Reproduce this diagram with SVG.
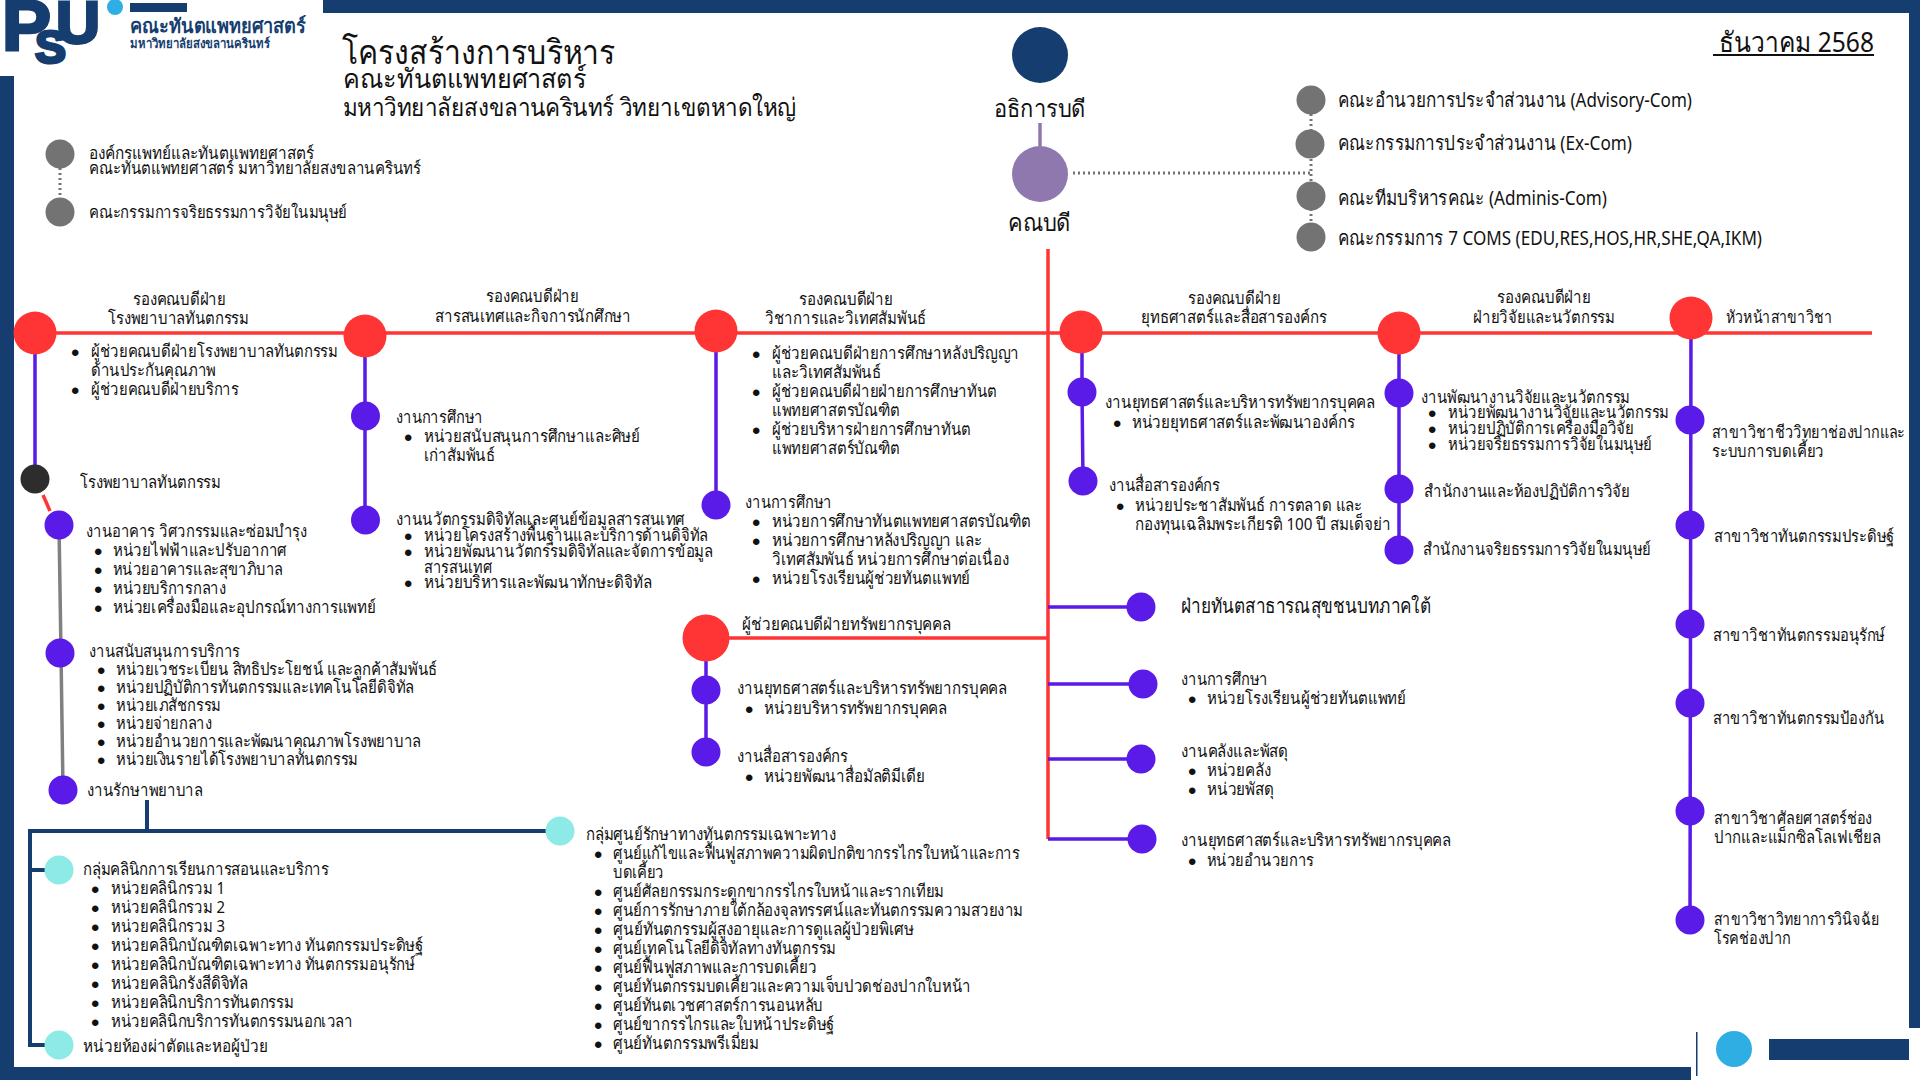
<svg xmlns="http://www.w3.org/2000/svg" width="1920" height="1080" viewBox="0 0 1920 1080">
<style>
text{font-family:"Noto Sans","Liberation Sans",sans-serif;font-size:17px;fill:#111}
.b{font-family:"Liberation Sans",sans-serif;font-size:24px;transform:translateY(4px)}
.sz20{font-size:20px}.sz24{font-size:24px}.sz28{font-size:28px}
.logo{font-family:"Liberation Sans",sans-serif;font-weight:700;fill:#153d6f;stroke:#153d6f;stroke-width:3}
.logot{font-weight:700;fill:#153d6f}
.red{fill:#ff3535}.vio{fill:#5a1ae8}.teal{fill:#8deae6}.gry{fill:#737373}
.l{fill:none;stroke-width:3.5}
.lr{stroke:#ff3535}.lv{stroke:#5a1ae8}.lg{stroke:#808080}.ln{stroke:#153d6f;stroke-width:4}
.ld{stroke:#737373;stroke-width:3;stroke-dasharray:2 3;fill:none}
</style>
<g id="frame" fill="#153d6f">
<rect x="323" y="0" width="1597" height="13"/>
<rect x="0" y="76" width="14" height="1004"/>
<rect x="0" y="1067" width="1691" height="13"/>
<rect x="1909" y="0" width="11" height="1028"/>
<rect x="1769" y="1039" width="140" height="21"/>
<rect x="1696" y="1032" width="1.5" height="44"/>
<circle cx="1734" cy="1049" r="18" fill="#2eaee3"/>
</g>
<g id="logo">
<text class="logo" x="2" y="50" textLength="49" lengthAdjust="spacingAndGlyphs" style="font-size:70px">P</text>
<text class="logo" x="56" y="43" textLength="44" lengthAdjust="spacingAndGlyphs" style="font-size:60px">U</text>
<text class="logo" x="35" y="63" textLength="31" lengthAdjust="spacingAndGlyphs" style="font-size:46px">S</text>
<circle cx="115" cy="7" r="8" fill="#2eaee3"/>
<rect x="130" y="3" width="57" height="9" fill="#153d6f"/>
<text class="logot" x="130" y="33" textLength="176" lengthAdjust="spacingAndGlyphs" style="font-size:20px">คณะทันตแพทยศาสตร์</text>
<text class="logot" x="130" y="48" textLength="140" lengthAdjust="spacingAndGlyphs" style="font-size:13px">มหาวิทยาลัยสงขลานครินทร์</text>
</g>
<g id="title">
<text x="342" y="64" textLength="273" lengthAdjust="spacingAndGlyphs" style="font-size:34px">โครงสร้างการบริหาร</text>
<text x="343" y="88" textLength="244" lengthAdjust="spacingAndGlyphs" style="font-size:27px">คณะทันตแพทยศาสตร์</text>
<text x="343" y="116" textLength="453" lengthAdjust="spacingAndGlyphs" style="font-size:25px">มหาวิทยาลัยสงขลานครินทร์ วิทยาเขตหาดใหญ่</text>
<text x="1719" y="52" textLength="155" lengthAdjust="spacingAndGlyphs" style="font-size:28px">ธันวาคม 2568</text>
<rect x="1713" y="54" width="161" height="2" fill="#111"/>
</g>
<g id="connectors">
<path class="l" d="M1040 123V146" stroke="#8f78ae"/>
<path class="ld" d="M1073 173H1311M1311 114V230M60 168V200"/>
<path class="l lr" d="M35 333H1872M1048 249V839M706 638H1048"/>
<path class="l lr" d="M43 495L50 511"/>
<path class="l lv" d="M35 333V479M365 336V520M716 331V505M1082 332V392L1083 481M1399 333V550M1691 318L1690 920M706 638V752M1048 607H1141M1048 684H1143M1048 759H1141M1048 839H1142"/>
<path class="l lg" d="M59 525L61 653L63 790"/>
<path class="l ln" d="M147 800V831M560 831H30V1045H59M30 870H59"/>
</g>
<g id="n-rector"><circle cx="1040" cy="55" r="28" fill="#153d6f"/><text x="994" y="117" textLength="92" lengthAdjust="spacingAndGlyphs" class="sz24">อธิการบดี</text></g>
<g id="n-dean"><circle cx="1040" cy="174" r="28" fill="#8f78ae"/><text x="1008" y="231" textLength="63" lengthAdjust="spacingAndGlyphs" class="sz24">คณบดี</text></g>
<g id="n-com1"><circle class="gry" cx="1311" cy="100" r="14.5"/><text x="1338" y="107" textLength="354" lengthAdjust="spacingAndGlyphs" class="sz20">คณะอำนวยการประจำส่วนงาน (Advisory-Com)</text></g>
<g id="n-com2"><circle class="gry" cx="1310" cy="144" r="14.5"/><text x="1338" y="150" textLength="294" lengthAdjust="spacingAndGlyphs" class="sz20">คณะกรรมการประจำส่วนงาน (Ex-Com)</text></g>
<g id="n-com3"><circle class="gry" cx="1311" cy="196" r="14.5"/><text x="1338" y="205" textLength="269" lengthAdjust="spacingAndGlyphs" class="sz20">คณะทีมบริหารคณะ (Adminis-Com)</text></g>
<g id="n-com4"><circle class="gry" cx="1311" cy="237" r="14.5"/><text x="1338" y="245" textLength="424" lengthAdjust="spacingAndGlyphs" class="sz20">คณะกรรมการ 7 COMS (EDU,RES,HOS,HR,SHE,QA,IKM)</text></g>
<g id="n-leg1"><circle class="gry" cx="60" cy="154" r="14.5"/><text x="89" y="159" textLength="225" lengthAdjust="spacingAndGlyphs">องค์กรแพทย์และทันตแพทยศาสตร์</text><text x="89" y="174" textLength="332" lengthAdjust="spacingAndGlyphs">คณะทันตแพทยศาสตร์ มหาวิทยาลัยสงขลานครินทร์</text></g>
<g id="n-leg2"><circle class="gry" cx="60" cy="212" r="14.5"/><text x="89" y="218" textLength="258" lengthAdjust="spacingAndGlyphs">คณะกรรมการจริยธรรมการวิจัยในมนุษย์</text></g>

<g id="n-vp1"><circle class="red" cx="35" cy="333" r="21.5"/>
<text x="133" y="305" textLength="93" lengthAdjust="spacingAndGlyphs">รองคณบดีฝ่าย</text><text x="108" y="324" textLength="141" lengthAdjust="spacingAndGlyphs">โรงพยาบาลทันตกรรม</text>
<text class="b" x="71" y="357">•</text><text x="91" y="357" textLength="247" lengthAdjust="spacingAndGlyphs">ผู้ช่วยคณบดีฝ่ายโรงพยาบาลทันตกรรม</text>
<text x="91" y="376" textLength="125" lengthAdjust="spacingAndGlyphs">ด้านประกันคุณภาพ</text>
<text class="b" x="71" y="395">•</text><text x="91" y="395" textLength="148" lengthAdjust="spacingAndGlyphs">ผู้ช่วยคณบดีฝ่ายบริการ</text></g>
<g id="n-hosp"><circle cx="35" cy="479" r="14.5" fill="#2d2d2d"/><text x="80" y="488" textLength="141" lengthAdjust="spacingAndGlyphs">โรงพยาบาลทันตกรรม</text></g>
<g id="n-bldg"><circle class="vio" cx="59" cy="525" r="14.5"/><text x="86" y="537" textLength="221" lengthAdjust="spacingAndGlyphs">งานอาคาร วิศวกรรมและซ่อมบำรุง</text>
<text class="b" x="94" y="556">•</text><text x="113" y="556" textLength="174" lengthAdjust="spacingAndGlyphs">หน่วยไฟฟ้าและปรับอากาศ</text>
<text class="b" x="94" y="575">•</text><text x="113" y="575" textLength="170" lengthAdjust="spacingAndGlyphs">หน่วยอาคารและสุขาภิบาล</text>
<text class="b" x="94" y="594">•</text><text x="113" y="594" textLength="113" lengthAdjust="spacingAndGlyphs">หน่วยบริการกลาง</text>
<text class="b" x="94" y="613">•</text><text x="113" y="613" textLength="263" lengthAdjust="spacingAndGlyphs">หน่วยเครื่องมือและอุปกรณ์ทางการแพทย์</text></g>
<g id="n-supp"><circle class="vio" cx="60" cy="653" r="14.5"/><text x="89" y="657" textLength="151" lengthAdjust="spacingAndGlyphs">งานสนับสนุนการบริการ</text>
<text class="b" x="97" y="675">•</text><text x="116" y="675" textLength="321" lengthAdjust="spacingAndGlyphs">หน่วยเวชระเบียน สิทธิประโยชน์ และลูกค้าสัมพันธ์</text>
<text class="b" x="97" y="693">•</text><text x="116" y="693" textLength="298" lengthAdjust="spacingAndGlyphs">หน่วยปฏิบัติการทันตกรรมและเทคโนโลยีดิจิทัล</text>
<text class="b" x="97" y="711">•</text><text x="116" y="711" textLength="105" lengthAdjust="spacingAndGlyphs">หน่วยเภสัชกรรม</text>
<text class="b" x="97" y="729">•</text><text x="116" y="729" textLength="96" lengthAdjust="spacingAndGlyphs">หน่วยจ่ายกลาง</text>
<text class="b" x="97" y="747">•</text><text x="116" y="747" textLength="305" lengthAdjust="spacingAndGlyphs">หน่วยอำนวยการและพัฒนาคุณภาพโรงพยาบาล</text>
<text class="b" x="97" y="765">•</text><text x="116" y="765" textLength="242" lengthAdjust="spacingAndGlyphs">หน่วยเงินรายได้โรงพยาบาลทันตกรรม</text></g>
<g id="n-nurse"><circle class="vio" cx="63" cy="790" r="14.5"/><text x="87" y="796" textLength="116" lengthAdjust="spacingAndGlyphs">งานรักษาพยาบาล</text></g>
<g id="n-clinic"><circle class="teal" cx="59" cy="870" r="14.5"/><text x="83" y="875" textLength="246" lengthAdjust="spacingAndGlyphs">กลุ่มคลินิกการเรียนการสอนและบริการ</text>
<text class="b" x="91" y="894">•</text><text x="111" y="894" textLength="114" lengthAdjust="spacingAndGlyphs">หน่วยคลินิกรวม 1</text>
<text class="b" x="91" y="913">•</text><text x="111" y="913" textLength="114" lengthAdjust="spacingAndGlyphs">หน่วยคลินิกรวม 2</text>
<text class="b" x="91" y="932">•</text><text x="111" y="932" textLength="114" lengthAdjust="spacingAndGlyphs">หน่วยคลินิกรวม 3</text>
<text class="b" x="91" y="951">•</text><text x="111" y="951" textLength="312" lengthAdjust="spacingAndGlyphs">หน่วยคลินิกบัณฑิตเฉพาะทาง ทันตกรรมประดิษฐ์</text>
<text class="b" x="91" y="970">•</text><text x="111" y="970" textLength="304" lengthAdjust="spacingAndGlyphs">หน่วยคลินิกบัณฑิตเฉพาะทาง ทันตกรรมอนุรักษ์</text>
<text class="b" x="91" y="989">•</text><text x="111" y="989" textLength="137" lengthAdjust="spacingAndGlyphs">หน่วยคลินิกรังสีดิจิทัล</text>
<text class="b" x="91" y="1008">•</text><text x="111" y="1008" textLength="183" lengthAdjust="spacingAndGlyphs">หน่วยคลินิกบริการทันตกรรม</text>
<text class="b" x="91" y="1027">•</text><text x="111" y="1027" textLength="242" lengthAdjust="spacingAndGlyphs">หน่วยคลินิกบริการทันตกรรมนอกเวลา</text></g>
<g id="n-or"><circle class="teal" cx="59" cy="1045" r="14.5"/><text x="83" y="1052" textLength="185" lengthAdjust="spacingAndGlyphs">หน่วยห้องผ่าตัดและหอผู้ป่วย</text></g>
<g id="n-center"><circle class="teal" cx="560" cy="831" r="14.5"/><text x="586" y="840" textLength="250" lengthAdjust="spacingAndGlyphs">กลุ่มศูนย์รักษาทางทันตกรรมเฉพาะทาง</text>
<text class="b" x="594" y="859">•</text><text x="613" y="859" textLength="407" lengthAdjust="spacingAndGlyphs">ศูนย์แก้ไขและฟื้นฟูสภาพความผิดปกติขากรรไกรใบหน้าและการ</text>
<text x="613" y="878" textLength="51" lengthAdjust="spacingAndGlyphs">บดเคี้ยว</text>
<text class="b" x="594" y="897">•</text><text x="613" y="897" textLength="331" lengthAdjust="spacingAndGlyphs">ศูนย์ศัลยกรรมกระดูกขากรรไกรใบหน้าและรากเทียม</text>
<text class="b" x="594" y="916">•</text><text x="613" y="916" textLength="410" lengthAdjust="spacingAndGlyphs">ศูนย์การรักษาภายใต้กล้องจุลทรรศน์และทันตกรรมความสวยงาม</text>
<text class="b" x="594" y="935">•</text><text x="613" y="935" textLength="301" lengthAdjust="spacingAndGlyphs">ศูนย์ทันตกรรมผู้สูงอายุและการดูแลผู้ป่วยพิเศษ</text>
<text class="b" x="594" y="954">•</text><text x="613" y="954" textLength="223" lengthAdjust="spacingAndGlyphs">ศูนย์เทคโนโลยีดิจิทัลทางทันตกรรม</text>
<text class="b" x="594" y="973">•</text><text x="613" y="973" textLength="204" lengthAdjust="spacingAndGlyphs">ศูนย์ฟื้นฟูสภาพและการบดเคี้ยว</text>
<text class="b" x="594" y="992">•</text><text x="613" y="992" textLength="358" lengthAdjust="spacingAndGlyphs">ศูนย์ทันตกรรมบดเคี้ยวและความเจ็บปวดช่องปากใบหน้า</text>
<text class="b" x="594" y="1011">•</text><text x="613" y="1011" textLength="210" lengthAdjust="spacingAndGlyphs">ศูนย์ทันตเวชศาสตร์การนอนหลับ</text>
<text class="b" x="594" y="1030">•</text><text x="613" y="1030" textLength="221" lengthAdjust="spacingAndGlyphs">ศูนย์ขากรรไกรและใบหน้าประดิษฐ์</text>
<text class="b" x="594" y="1049">•</text><text x="613" y="1049" textLength="146" lengthAdjust="spacingAndGlyphs">ศูนย์ทันตกรรมพรีเมี่ยม</text></g>

<g id="n-vp2"><circle class="red" cx="365" cy="336" r="21.5"/><text x="486" y="302" textLength="93" lengthAdjust="spacingAndGlyphs">รองคณบดีฝ่าย</text><text x="435" y="322" textLength="196" lengthAdjust="spacingAndGlyphs">สารสนเทศและกิจการนักศึกษา</text></g>
<g id="n-edu2"><circle class="vio" cx="365.5" cy="416" r="14.5"/><text x="396" y="423" textLength="87" lengthAdjust="spacingAndGlyphs">งานการศึกษา</text>
<text class="b" x="404" y="442">•</text><text x="424" y="442" textLength="216" lengthAdjust="spacingAndGlyphs">หน่วยสนับสนุนการศึกษาและศิษย์</text>
<text x="424" y="461" textLength="71" lengthAdjust="spacingAndGlyphs">เก่าสัมพันธ์</text></g>
<g id="n-dig"><circle class="vio" cx="365.5" cy="520" r="14.5"/><text x="396" y="525" textLength="289" lengthAdjust="spacingAndGlyphs">งานนวัตกรรมดิจิทัลและศูนย์ข้อมูลสารสนเทศ</text>
<text class="b" x="404" y="541">•</text><text x="424" y="541" textLength="284" lengthAdjust="spacingAndGlyphs">หน่วยโครงสร้างพื้นฐานและบริการด้านดิจิทัล</text>
<text class="b" x="404" y="557">•</text><text x="424" y="557" textLength="289" lengthAdjust="spacingAndGlyphs">หน่วยพัฒนานวัตกรรมดิจิทัลและจัดการข้อมูล</text>
<text x="424" y="573" textLength="68" lengthAdjust="spacingAndGlyphs">สารสนเทศ</text>
<text class="b" x="404" y="588">•</text><text x="424" y="588" textLength="228" lengthAdjust="spacingAndGlyphs">หน่วยบริหารและพัฒนาทักษะดิจิทัล</text></g>

<g id="n-vp3"><circle class="red" cx="716" cy="331" r="21.5"/><text x="799" y="305" textLength="94" lengthAdjust="spacingAndGlyphs">รองคณบดีฝ่าย</text><text x="765" y="324" textLength="161" lengthAdjust="spacingAndGlyphs">วิชาการและวิเทศสัมพันธ์</text>
<text class="b" x="752" y="359">•</text><text x="772" y="359" textLength="247" lengthAdjust="spacingAndGlyphs">ผู้ช่วยคณบดีฝ่ายการศึกษาหลังปริญญา</text>
<text x="772" y="378" textLength="109" lengthAdjust="spacingAndGlyphs">และวิเทศสัมพันธ์</text>
<text class="b" x="752" y="397">•</text><text x="772" y="397" textLength="225" lengthAdjust="spacingAndGlyphs">ผู้ช่วยคณบดีฝ่ายฝ่ายการศึกษาทันต</text>
<text x="772" y="416" textLength="128" lengthAdjust="spacingAndGlyphs">แพทยศาสตรบัณฑิต</text>
<text class="b" x="752" y="435">•</text><text x="772" y="435" textLength="199" lengthAdjust="spacingAndGlyphs">ผู้ช่วยบริหารฝ่ายการศึกษาทันต</text>
<text x="772" y="454" textLength="128" lengthAdjust="spacingAndGlyphs">แพทยศาสตร์บัณฑิต</text></g>
<g id="n-edu3"><circle class="vio" cx="716" cy="505" r="14.5"/><text x="745" y="508" textLength="87" lengthAdjust="spacingAndGlyphs">งานการศึกษา</text>
<text class="b" x="752" y="527">•</text><text x="772" y="527" textLength="259" lengthAdjust="spacingAndGlyphs">หน่วยการศึกษาทันตแพทยศาสตรบัณฑิต</text>
<text class="b" x="752" y="546">•</text><text x="772" y="546" textLength="210" lengthAdjust="spacingAndGlyphs">หน่วยการศึกษาหลังปริญญา และ</text>
<text x="772" y="565" textLength="237" lengthAdjust="spacingAndGlyphs">วิเทศสัมพันธ์ หน่วยการศึกษาต่อเนื่อง</text>
<text class="b" x="752" y="584">•</text><text x="772" y="584" textLength="198" lengthAdjust="spacingAndGlyphs">หน่วยโรงเรียนผู้ช่วยทันตแพทย์</text></g>
<g id="n-hr"><circle class="red" cx="706" cy="638" r="23.5"/><text x="742" y="630" textLength="209" lengthAdjust="spacingAndGlyphs">ผู้ช่วยคณบดีฝ่ายทรัพยากรบุคคล</text></g>
<g id="n-hr1"><circle class="vio" cx="706" cy="690" r="14.5"/><text x="737" y="694" textLength="270" lengthAdjust="spacingAndGlyphs">งานยุทธศาสตร์และบริหารทรัพยากรบุคคล</text>
<text class="b" x="745" y="714">•</text><text x="764" y="714" textLength="183" lengthAdjust="spacingAndGlyphs">หน่วยบริหารทรัพยากรบุคคล</text></g>
<g id="n-hr2"><circle class="vio" cx="706" cy="752" r="14.5"/><text x="737" y="762" textLength="111" lengthAdjust="spacingAndGlyphs">งานสื่อสารองค์กร</text>
<text class="b" x="745" y="782">•</text><text x="764" y="782" textLength="161" lengthAdjust="spacingAndGlyphs">หน่วยพัฒนาสื่อมัลติมีเดีย</text></g>

<g id="n-vp4"><circle class="red" cx="1081" cy="332" r="21.5"/><text x="1188" y="304" textLength="93" lengthAdjust="spacingAndGlyphs">รองคณบดีฝ่าย</text><text x="1141" y="323" textLength="186" lengthAdjust="spacingAndGlyphs">ยุทธศาสตร์และสื่อสารองค์กร</text></g>
<g id="n-st1"><circle class="vio" cx="1082" cy="392" r="14.5"/><text x="1105" y="408" textLength="270" lengthAdjust="spacingAndGlyphs">งานยุทธศาสตร์และบริหารทรัพยากรบุคคล</text>
<text class="b" x="1113" y="428">•</text><text x="1132" y="428" textLength="223" lengthAdjust="spacingAndGlyphs">หน่วยยุทธศาสตร์และพัฒนาองค์กร</text></g>
<g id="n-st2"><circle class="vio" cx="1083" cy="481" r="14.5"/><text x="1109" y="491" textLength="111" lengthAdjust="spacingAndGlyphs">งานสื่อสารองค์กร</text>
<text class="b" x="1116" y="511">•</text><text x="1135" y="511" textLength="227" lengthAdjust="spacingAndGlyphs">หน่วยประชาสัมพันธ์ การตลาด และ</text>
<text x="1135" y="530" textLength="256" lengthAdjust="spacingAndGlyphs">กองทุนเฉลิมพระเกียรติ 100 ปี สมเด็จย่า</text></g>

<g id="n-vp5"><circle class="red" cx="1399" cy="333" r="21.5"/><text x="1497" y="303" textLength="94" lengthAdjust="spacingAndGlyphs">รองคณบดีฝ่าย</text><text x="1473" y="323" textLength="142" lengthAdjust="spacingAndGlyphs">ฝ่ายวิจัยและนวัตกรรม</text></g>
<g id="n-re1"><circle class="vio" cx="1399" cy="393" r="14.5"/><text x="1421" y="403" textLength="209" lengthAdjust="spacingAndGlyphs">งานพัฒนางานวิจัยและนวัตกรรม</text>
<text class="b" x="1428" y="418">•</text><text x="1448" y="418" textLength="221" lengthAdjust="spacingAndGlyphs">หน่วยพัฒนางานวิจัยและนวัตกรรม</text>
<text class="b" x="1428" y="434">•</text><text x="1448" y="434" textLength="186" lengthAdjust="spacingAndGlyphs">หน่วยปฏิบัติการเครื่องมือวิจัย</text>
<text class="b" x="1428" y="450">•</text><text x="1448" y="450" textLength="204" lengthAdjust="spacingAndGlyphs">หน่วยจริยธรรมการวิจัยในมนุษย์</text></g>
<g id="n-re2"><circle class="vio" cx="1399" cy="489" r="14.5"/><text x="1424" y="497" textLength="206" lengthAdjust="spacingAndGlyphs">สำนักงานและห้องปฏิบัติการวิจัย</text></g>
<g id="n-re3"><circle class="vio" cx="1399" cy="550" r="14.5"/><text x="1423" y="555" textLength="228" lengthAdjust="spacingAndGlyphs">สำนักงานจริยธรรมการวิจัยในมนุษย์</text></g>

<g id="n-head"><circle class="red" cx="1691" cy="318" r="21.5"/><text x="1726" y="323" textLength="106" lengthAdjust="spacingAndGlyphs">หัวหน้าสาขาวิชา</text></g>
<g id="n-d1"><circle class="vio" cx="1690" cy="420" r="14.5"/><text x="1712" y="438" textLength="193" lengthAdjust="spacingAndGlyphs">สาขาวิชาชีววิทยาช่องปากและ</text><text x="1712" y="457" textLength="112" lengthAdjust="spacingAndGlyphs">ระบบการบดเคี้ยว</text></g>
<g id="n-d2"><circle class="vio" cx="1690" cy="525" r="14.5"/><text x="1714" y="542" textLength="180" lengthAdjust="spacingAndGlyphs">สาขาวิชาทันตกรรมประดิษฐ์</text></g>
<g id="n-d3"><circle class="vio" cx="1690" cy="624" r="14.5"/><text x="1713" y="641" textLength="172" lengthAdjust="spacingAndGlyphs">สาขาวิชาทันตกรรมอนุรักษ์</text></g>
<g id="n-d4"><circle class="vio" cx="1690" cy="703" r="14.5"/><text x="1713" y="724" textLength="171" lengthAdjust="spacingAndGlyphs">สาขาวิชาทันตกรรมป้องกัน</text></g>
<g id="n-d5"><circle class="vio" cx="1690" cy="811" r="14.5"/><text x="1714" y="824" textLength="158" lengthAdjust="spacingAndGlyphs">สาขาวิชาศัลยศาสตร์ช่อง</text><text x="1714" y="843" textLength="167" lengthAdjust="spacingAndGlyphs">ปากและแม็กซิลโลเฟเชียล</text></g>
<g id="n-d6"><circle class="vio" cx="1690" cy="920" r="14.5"/><text x="1714" y="925" textLength="165" lengthAdjust="spacingAndGlyphs">สาขาวิชาวิทยาการวินิจฉัย</text><text x="1714" y="944" textLength="77" lengthAdjust="spacingAndGlyphs">โรคช่องปาก</text></g>

<g id="n-rural"><circle class="vio" cx="1141" cy="607" r="14.5"/><text x="1181" y="613" textLength="250" lengthAdjust="spacingAndGlyphs" class="sz20">ฝ่ายทันตสาธารณสุขชนบทภาคใต้</text></g>
<g id="n-edu4"><circle class="vio" cx="1143" cy="684" r="14.5"/><text x="1181" y="685" textLength="87" lengthAdjust="spacingAndGlyphs">งานการศึกษา</text>
<text class="b" x="1188" y="704">•</text><text x="1207" y="704" textLength="199" lengthAdjust="spacingAndGlyphs">หน่วยโรงเรียนผู้ช่วยทันตแพทย์</text></g>
<g id="n-store"><circle class="vio" cx="1141" cy="759" r="14.5"/><text x="1181" y="757" textLength="107" lengthAdjust="spacingAndGlyphs">งานคลังและพัสดุ</text>
<text class="b" x="1188" y="776">•</text><text x="1207" y="776" textLength="64" lengthAdjust="spacingAndGlyphs">หน่วยคลัง</text>
<text class="b" x="1188" y="795">•</text><text x="1207" y="795" textLength="67" lengthAdjust="spacingAndGlyphs">หน่วยพัสดุ</text></g>
<g id="n-st3"><circle class="vio" cx="1142" cy="839" r="14.5"/><text x="1181" y="846" textLength="270" lengthAdjust="spacingAndGlyphs">งานยุทธศาสตร์และบริหารทรัพยากรบุคคล</text>
<text class="b" x="1188" y="866">•</text><text x="1207" y="866" textLength="107" lengthAdjust="spacingAndGlyphs">หน่วยอำนวยการ</text></g>
</svg>
